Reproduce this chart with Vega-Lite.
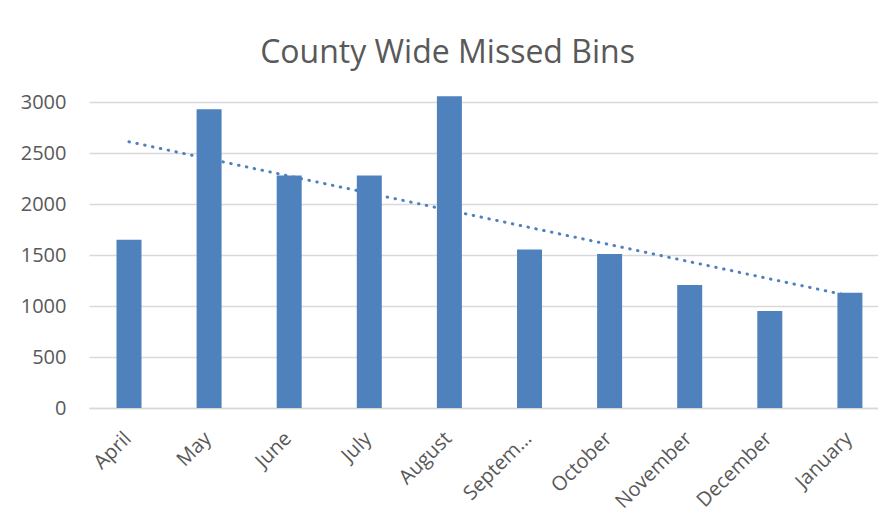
{
  "$schema": "https://vega.github.io/schema/vega-lite/v6.json",
  "width": 789,
  "height": 357,
  "autosize": {"type": "none"},
  "padding": {"left": 89, "top": 51, "right": 0, "bottom": 107},
  "background": "white",
  "title": {
    "text": "County Wide Missed Bins",
    "font": "Open Sans",
    "fontSize": 32,
    "fontWeight": "normal",
    "color": "#595959",
    "anchor": "middle",
    "dx": -36,
    "offset": -19
  },
  "data": {
    "values": [
      {"month": "April", "bins": 1650, "trend": 2610},
      {"month": "May", "bins": 2930, "trend": 2442},
      {"month": "June", "bins": 2280, "trend": 2274},
      {"month": "July", "bins": 2280, "trend": 2106},
      {"month": "August", "bins": 3057, "trend": 1938},
      {"month": "September", "bins": 1555, "trend": 1770},
      {"month": "October", "bins": 1510, "trend": 1602},
      {"month": "November", "bins": 1205, "trend": 1434},
      {"month": "December", "bins": 950, "trend": 1266},
      {"month": "January", "bins": 1130, "trend": 1098}
    ]
  },
  "encoding": {
    "x": {
      "field": "month",
      "type": "nominal",
      "sort": null,
      "scale": {"paddingInner": 0.688, "paddingOuter": 0.269, "align": 0.638},
      "axis": {
        "title": null,
        "labelAngle": -45,
        "labelExpr": "datum.label == 'September' ? 'Septem…' : datum.label",
        "labelFont": "Open Sans",
        "labelFontSize": 20,
        "labelColor": "#595959",
        "labelLimit": 140,
        "labelPadding": 20,
        "labelOffset": -8,
        "ticks": false,
        "domainColor": "#d9d9d9",
        "domainWidth": 1.5
      }
    }
  },
  "layer": [
    {
      "mark": {"type": "bar", "color": "#4f81bd"},
      "encoding": {
        "y": {
          "field": "bins",
          "type": "quantitative",
          "scale": {"domain": [0, 3500], "nice": false},
          "axis": {
            "title": null,
            "values": [0, 500, 1000, 1500, 2000, 2500, 3000],
            "format": "d",
            "labelFont": "Open Sans",
            "labelFontSize": 20,
            "labelColor": "#595959",
            "labelPadding": 23,
            "ticks": false,
            "domain": false,
            "grid": true,
            "gridColor": "#d9d9d9",
            "gridWidth": 1.5
          }
        }
      }
    },
    {
      "mark": {
        "type": "line",
        "color": "#4f81bd",
        "strokeWidth": 3,
        "strokeDash": [0.5, 7.5],
        "strokeCap": "round"
      },
      "encoding": {
        "y": {"field": "trend", "type": "quantitative"}
      }
    }
  ],
  "config": {
    "view": {"stroke": null}
  }
}
